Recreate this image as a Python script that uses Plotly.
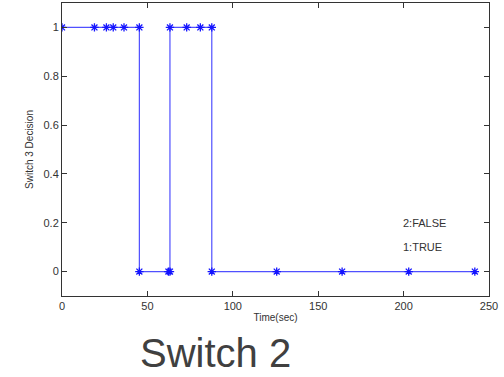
import plotly.graph_objects as go

time_sec = [0, 19, 26, 30, 36.3, 45.3, 45.3, 62.3, 63.2, 63.2, 73, 81, 87.7, 87.7, 125.7, 164, 203, 241.7]
decision = [1, 1, 1, 1, 1, 1, 0, 0, 0, 1, 1, 1, 1, 0, 0, 0, 0, 0]

x_ticks = [0, 50, 100, 150, 200, 250]
y_ticks = [0, 0.2, 0.4, 0.6, 0.8, 1]
y_tick_labels = ["0", "0.2", "0.4", "0.6", "0.8", "1"]

FONT = "Liberation Sans, Arial, sans-serif"

fig = go.Figure()
fig.add_trace(go.Scatter(
    x=time_sec, y=decision, mode="lines+markers",
    line=dict(color="rgb(80,80,255)", width=1.2),
    marker=dict(symbol="asterisk-open", size=7, color="rgb(20,20,255)",
                line=dict(color="rgb(20,20,255)", width=1.3)),
    showlegend=False,
))

axis_common = dict(
    showline=True, linecolor="#333333", linewidth=1, mirror="ticks",
    ticks="inside", ticklen=5, tickcolor="#333333",
    showgrid=False, zeroline=False,
    tickfont=dict(family=FONT, size=11, color="#333333"),
)
fig.update_xaxes(range=[0, 250], tickvals=x_ticks,
                 title=dict(text="Time(sec)", font=dict(family=FONT, size=10, color="#333333"), standoff=2),
                 **axis_common)
fig.update_yaxes(range=[-0.1, 1.1], tickvals=y_ticks, ticktext=y_tick_labels,
                 title=dict(text="Switch 3 Decision", font=dict(family=FONT, size=10, color="#333333"), standoff=8),
                 **axis_common)

fig.add_annotation(x=198.5, y=0.2, xref="x", yref="y", text="2:FALSE", showarrow=False,
                   xanchor="left", yanchor="middle", font=dict(family=FONT, size=11, color="#333333"))
fig.add_annotation(x=198.5, y=0.1, xref="x", yref="y", text="1:TRUE", showarrow=False,
                   xanchor="left", yanchor="middle", font=dict(family=FONT, size=11, color="#333333"))
fig.add_annotation(x=(215.5 - 62) / 427, y=(296 - 353) / 293, xref="paper", yref="paper",
                   text="Switch 2", showarrow=False, xanchor="center", yanchor="middle",
                   font=dict(family=FONT, size=40, color="#404040"))

fig.update_layout(
    width=504, height=377,
    margin=dict(l=62, r=15, t=3, b=81),
    paper_bgcolor="white", plot_bgcolor="white",
)

fig.write_html("out.html")
